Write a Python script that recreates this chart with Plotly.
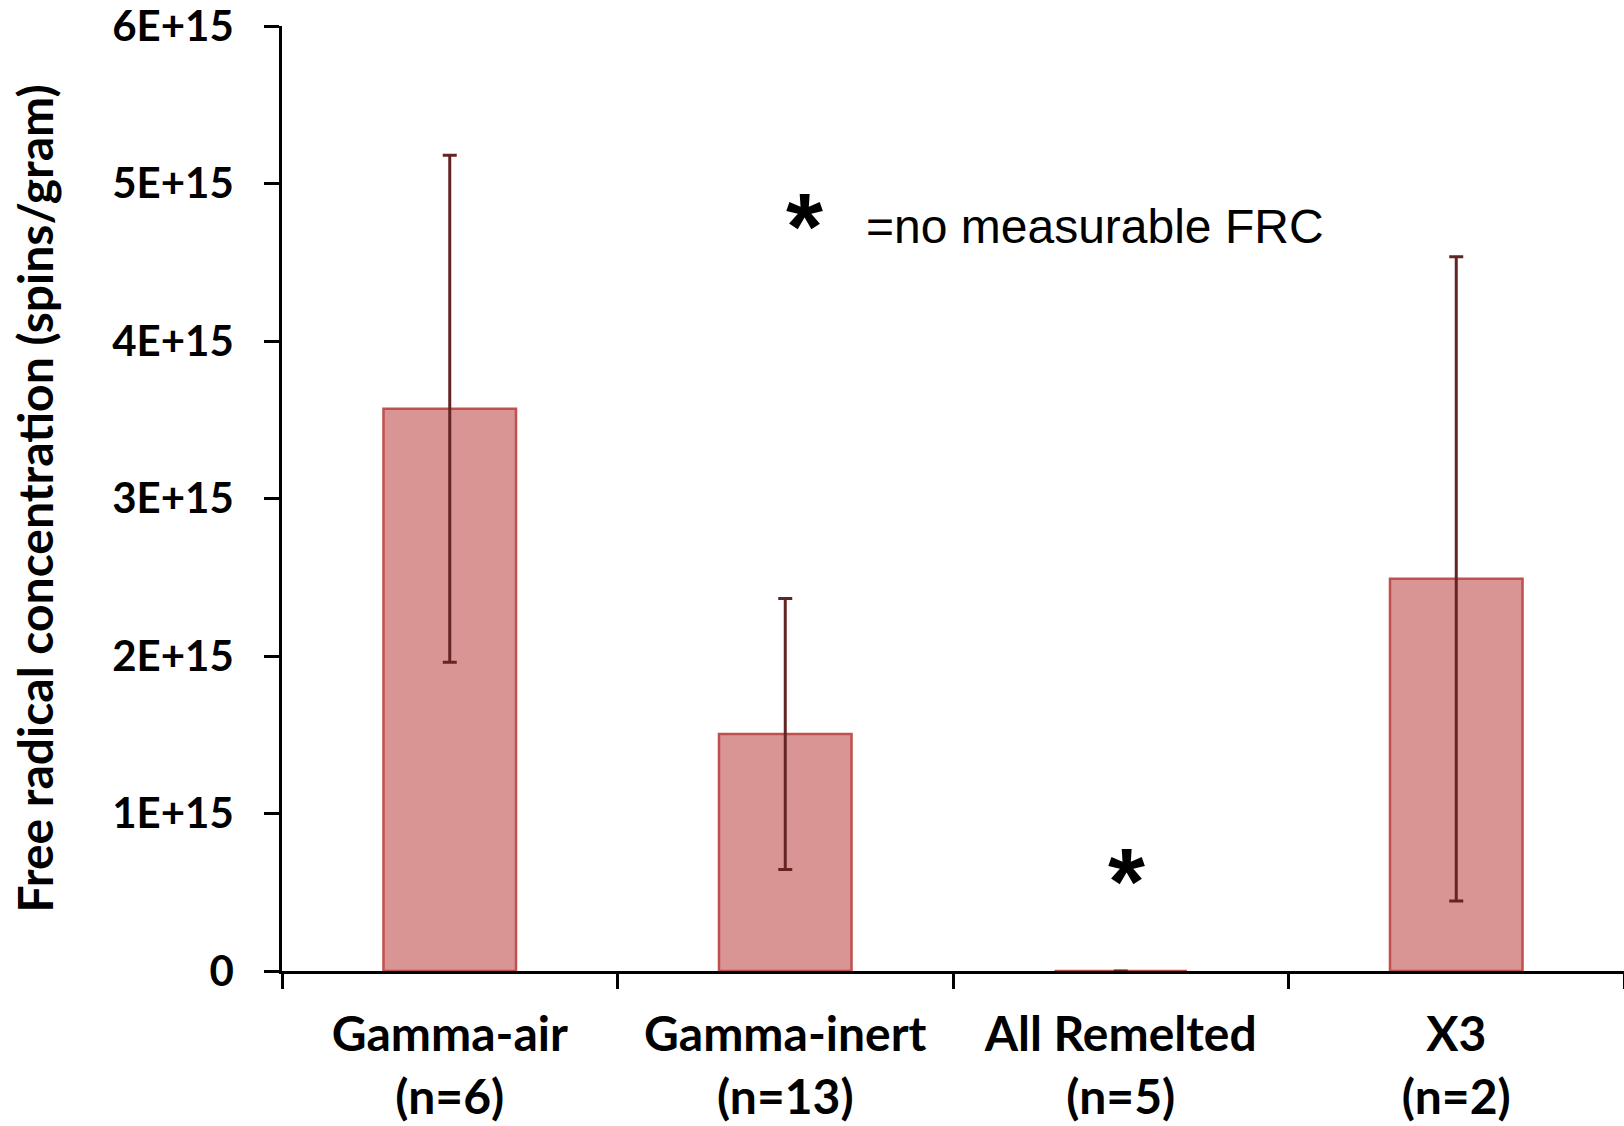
import plotly.graph_objects as go

categories = ["Gamma-air<br>(n=6)", "Gamma-inert<br>(n=13)", "All Remelted<br>(n=5)", "X3<br>(n=2)"]
values = [3.57e15, 1.505e15, 0.0, 2.49e15]
errors = [1.61e15, 0.86e15, 0.0, 2.045e15]
ytick_vals = [0, 1e15, 2e15, 3e15, 4e15, 5e15, 6e15]
ytick_text = ["0", "1E+15", "2E+15", "3E+15", "4E+15", "5E+15", "6E+15"]

fig = go.Figure()
fig.add_trace(go.Bar(
    x=categories, y=values,
    width=0.395,
    marker=dict(color="#D99594", line=dict(color="#C0504D", width=2.5)),
    error_y=dict(type="data", array=errors, visible=True, color="#632523", thickness=3, width=7),
))

fig.add_annotation(x=1.056, y=4.73e15, xref="x", yref="y", text="<b>*</b>", showarrow=False,
                   font=dict(family="Liberation Sans", size=95, color="black"), yanchor="middle")
fig.add_annotation(x=1.234, y=4.724e15, xref="x", yref="y", text="=no measurable FRC", showarrow=False,
                   font=dict(family="Liberation Sans", size=48, color="black"), xanchor="left", yanchor="middle")
fig.add_annotation(x=2.018, y=0.574e15, xref="x", yref="y", text="<b>*</b>", showarrow=False,
                   font=dict(family="Liberation Sans", size=95, color="black"), yanchor="middle")

fig.update_layout(
    width=1624, height=1126,
    margin=dict(l=282, r=0, t=26, b=155),
    paper_bgcolor="white", plot_bgcolor="white",
    showlegend=False,
    xaxis=dict(
        type="category", tickson="boundaries", ticks="outside", ticklen=15, tickwidth=2.5,
        tickcolor="black", showline=True, linecolor="black", linewidth=2.5,
        tickfont=dict(family="Lato", size=48, color="black", weight="bold"),
        ticklabelstandoff=20,
        automargin=False,
        showgrid=False, zeroline=False,
    ),
    yaxis=dict(
        range=[0, 6e15], tickvals=ytick_vals, ticktext=ytick_text,
        ticks="outside", ticklen=15, tickwidth=2.5, tickcolor="black",
        showline=True, linecolor="black", linewidth=2.5,
        tickfont=dict(family="Lato", size=42, color="black", weight="bold"),
        ticklabelstandoff=22, ticklabeloverflow="allow",
        automargin=False,
        showgrid=False, zeroline=False,
        title=dict(text="Free radical concentration (spins/gram)",
                   font=dict(family="Lato", size=48, color="black", weight="bold"), standoff=44),
    ),
)

fig.write_html("out.html", config={"displayModeBar": False},
               post_script="document.body.style.margin='0';document.body.style.overflow='hidden';")
